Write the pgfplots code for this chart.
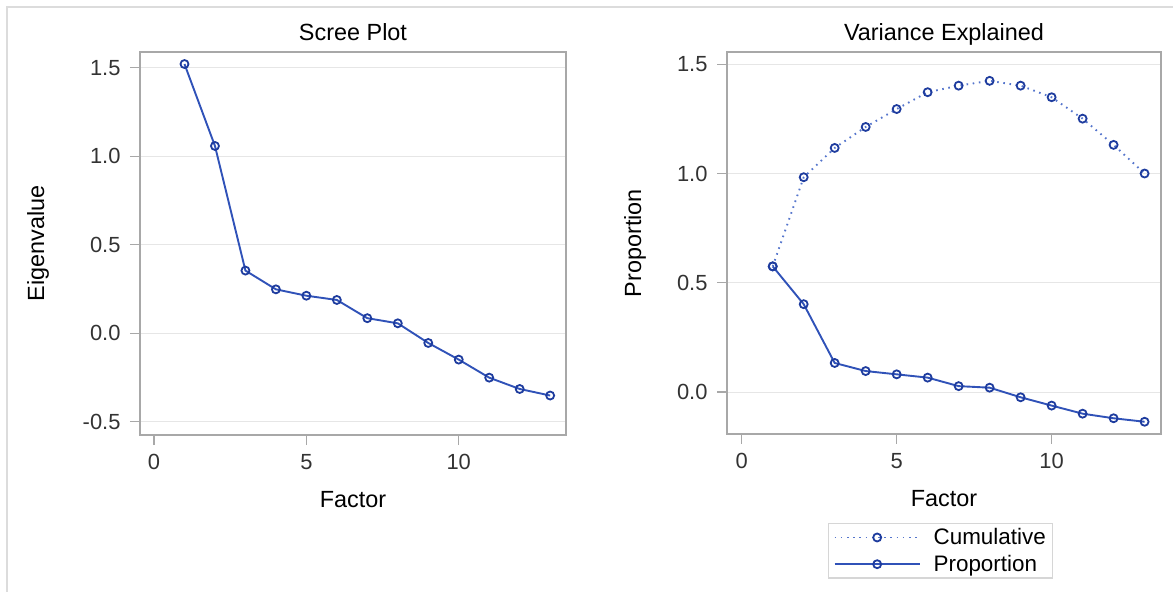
\documentclass[border=0pt]{standalone}
\usepackage{pgfplots}
\pgfplotsset{compat=1.18}
\usepackage{fontspec}
\setmainfont{Liberation Sans}
\definecolor{axgray}{HTML}{A8A8A8}
\definecolor{gridgray}{HTML}{E6E6E6}
\definecolor{tickgray}{HTML}{333333}
\definecolor{lineblue}{HTML}{3052B8}
\definecolor{markblue}{HTML}{1E3C9E}
\definecolor{dotblue}{HTML}{5575CC}
\definecolor{framegray}{HTML}{DCDCDC}
\pgfplotsset{
  sasaxis/.style={
    scale only axis, anchor=south west, clip=false,
    axis line style={draw=axgray, line width=1.3bp},
    major tick style={draw=axgray, line width=1.2bp},
    tick align=outside, major tick length=10bp,
    xtick pos=left, ytick pos=left,
    ymajorgrids, major grid style={draw=gridgray, line width=1bp},
    /pgf/number format/assume math mode=true,
    ticklabel style={font=\fontsize{22}{26}\selectfont, text=tickgray},
    label style={font=\fontsize{23.5}{27}\selectfont},
    title style={font=\fontsize{23.5}{27}\selectfont, at={(axis description cs:0.5,1.0157)}, anchor=base},
    xlabel style={at={(axis description cs:0.5,-0.19)}, anchor=base},
    yticklabel style={xshift=-6bp, /pgf/number format/.cd, fixed, fixed zerofill, precision=1},
    xticklabel style={yshift=-6bp},
    xtick={0,5,10},
  },
  propline/.style={color=lineblue, line width=1.9bp, mark=o, mark size=4bp,
    mark options={solid, draw=markblue, fill=white, line width=1.8bp}},
  cumline/.style={color=dotblue, line width=1.9bp, dash pattern=on 1.6bp off 4.6bp, mark=o, mark size=4bp,
    mark options={solid, draw=markblue, fill=white, line width=1.8bp}},
}
\begin{document}
\begin{tikzpicture}
\useasboundingbox (0bp,0bp) rectangle (1173bp,592bp);
\draw[color=framegray, line width=2bp] (7bp,0bp) -- (7bp,585bp) -- (1173bp,585bp);

\begin{axis}[sasaxis,
  at={(140bp,157bp)}, width=426bp, height=383bp,
  xmin=-0.46, xmax=13.52, ymin=-0.575, ymax=1.589,
  ytick={-0.5,0,0.5,1,1.5},
  title={Scree Plot}, xlabel={Factor}, ylabel={Eigenvalue},
  ylabel style={at={(axis description cs:-0.239,0.5)}, anchor=center},
]
\addplot[propline] coordinates {
 (1,1.521) (2,1.058) (3,0.354) (4,0.248) (5,0.212) (6,0.188) (7,0.085)
 (8,0.056) (9,-0.055) (10,-0.149) (11,-0.251) (12,-0.315) (13,-0.352)};
\end{axis}

\begin{axis}[sasaxis,
  at={(727bp,158bp)}, width=434bp, height=382bp,
  xmin=-0.475, xmax=13.53, ymin=-0.192, ymax=1.556,
  ytick={0,0.5,1,1.5},
  title={Variance Explained}, xlabel={Factor}, ylabel={Proportion},
  ylabel style={at={(axis description cs:-0.212,0.5)}, anchor=center},
  legend image code/.code={\draw[mark repeat=2,mark phase=2,#1] plot coordinates {(0bp,0bp) (42.5bp,0bp) (85bp,0bp)};},
  legend style={at={(axis description cs:0.233,-0.233)}, anchor=north west,
    draw=black!16, line width=1.2bp, font=\fontsize{22.5}{26}\selectfont,
    inner xsep=5bp, inner ysep=3bp, row sep=5bp, column sep=11bp,
    nodes={inner sep=2bp}},
  legend cell align=left,
]
\addplot[cumline] coordinates {
 (1,0.575) (2,0.983) (3,1.117) (4,1.213) (5,1.295) (6,1.372) (7,1.402)
 (8,1.424) (9,1.402) (10,1.349) (11,1.251) (12,1.131) (13,1.0)};
\addlegendentry{Cumulative}
\addplot[propline] coordinates {
 (1,0.575) (2,0.402) (3,0.133) (4,0.096) (5,0.081) (6,0.066) (7,0.027)
 (8,0.020) (9,-0.024) (10,-0.062) (11,-0.099) (12,-0.120) (13,-0.136)};
\addlegendentry{Proportion}
\end{axis}
\end{tikzpicture}
\end{document}
